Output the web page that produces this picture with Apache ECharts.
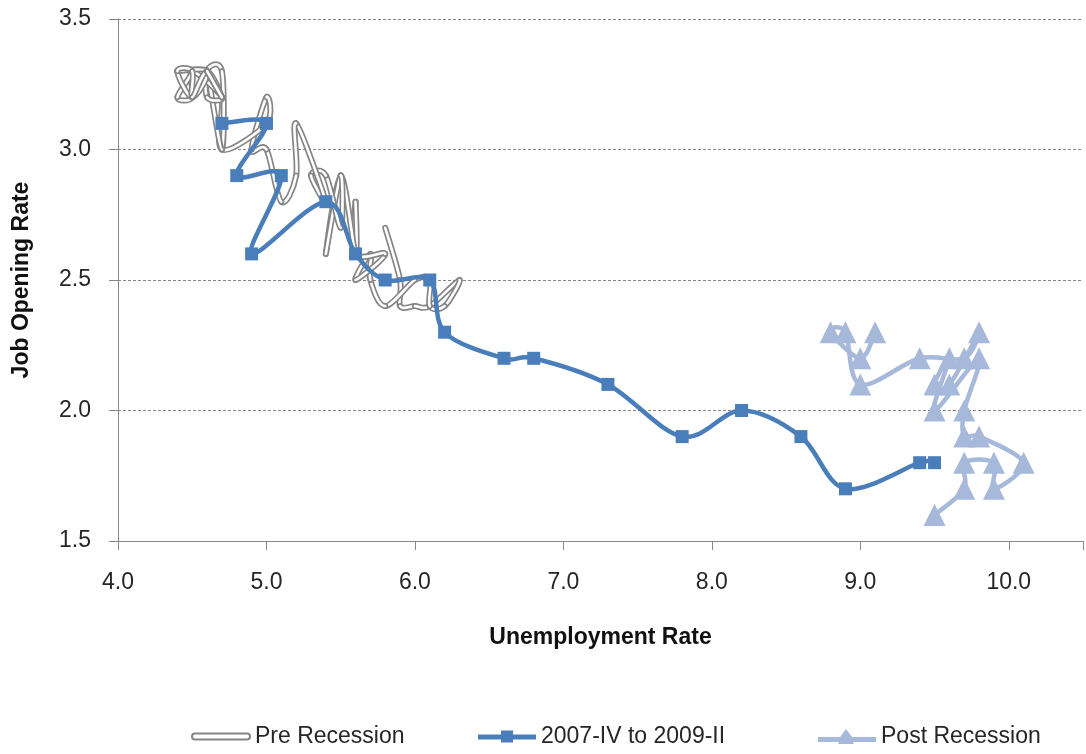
<!DOCTYPE html>
<html>
<head>
<meta charset="utf-8">
<script src="https://cdn.jsdelivr.net/npm/echarts@6/dist/echarts.min.js"></script>
<style>
  html, body { margin: 0; padding: 0; background: #fff; }
  #chart { width: 1086px; height: 754px; }
</style>
</head>
<body>
<div id="chart"></div>
<script>
// unemployment rate, job opening rate
var preRecession = [
  [5.8, 2.7], [5.9, 2.5], [5.9, 2.4], [6.0, 2.4], [6.1, 2.4], [6.3, 2.5],
  [6.2, 2.4], [6.1, 2.4], [6.1, 2.5], [6.0, 2.5], [5.8, 2.4], [5.7, 2.5],
  [5.7, 2.6], [5.6, 2.5], [5.8, 2.6], [5.6, 2.6], [5.6, 2.8], [5.6, 2.6],
  [5.5, 2.9], [5.4, 2.6], [5.5, 2.9], [5.5, 2.7], [5.4, 2.9], [5.3, 2.9],
  [5.4, 2.8], [5.2, 3.1], [5.2, 2.9], [5.1, 2.8], [5.0, 3.0], [4.9, 3.0],
  [5.0, 3.2], [5.0, 3.1], [4.7, 3.0], [4.7, 3.2], [4.6, 3.3], [4.7, 3.3],
  [4.7, 3.0], [4.6, 3.3], [4.6, 3.2], [4.7, 3.2], [4.5, 3.3], [4.5, 3.2],
  [4.4, 3.2], [4.5, 3.3], [4.4, 3.3], [4.6, 3.3], [4.5, 3.2], [4.4, 3.3],
  [4.5, 3.3], [4.5, 3.2], [4.6, 3.3], [4.7, 3.2], [4.6, 3.3], [4.7, 3.2]
]
var recession = [
  [4.7, 3.1], [5.0, 3.1], [4.8, 2.9], [5.1, 2.9], [4.9, 2.6], [5.4, 2.8],
  [5.6, 2.6], [5.8, 2.5], [6.1, 2.5], [6.2, 2.3], [6.6, 2.2], [6.8, 2.2],
  [7.3, 2.1], [7.8, 1.9], [8.2, 2.0], [8.6, 1.9], [8.9, 1.7], [9.4, 1.8],
  [9.5, 1.8]
]
var postRecession = [
  [9.5, 1.6], [9.7, 1.7], [9.7, 1.8], [9.9, 1.8], [9.9, 1.7], [10.1, 1.8],
  [9.8, 1.9], [9.7, 1.9], [9.7, 2.0], [9.8, 2.2], [9.5, 2.0], [9.6, 2.2],
  [9.5, 2.1], [9.6, 2.1], [9.8, 2.3], [9.7, 2.2], [9.4, 2.2], [9.0, 2.1],
  [8.9, 2.3], [8.8, 2.3], [9.0, 2.2], [9.1, 2.3]
]
var seriesNames = ['Pre Recession', '2007-IV to 2009-II', 'Post Recession']

var font = 'Liberation Sans, Arial, sans-serif'
var grayLine = '#858585'
var blue = '#4a7ebb'
var lightBlue = '#a7b9da'

// spreadsheet-style smoothed line: one bezier per segment, catmull-rom control points
function smoothRender(points, strokes) {
  return function (params, api) {
    var i = params.dataIndex
    var n = points.length
    if (i >= n - 1) return null
    var p0 = api.coord(points[Math.max(i - 1, 0)])
    var p1 = api.coord(points[i])
    var p2 = api.coord(points[i + 1])
    var p3 = api.coord(points[Math.min(i + 2, n - 1)])
    var t = 1 / 6
    var shape = {
      x1: p1[0], y1: p1[1], x2: p2[0], y2: p2[1],
      cpx1: p1[0] + (p2[0] - p0[0]) * t,
      cpy1: p1[1] + (p2[1] - p0[1]) * t,
      cpx2: p2[0] - (p3[0] - p1[0]) * t,
      cpy2: p2[1] - (p3[1] - p1[1]) * t
    }
    return {
      type: 'group',
      children: strokes.map(function (s) {
        return {
          type: 'bezierCurve',
          shape: shape,
          style: { stroke: s.color, lineWidth: s.width, fill: null, lineCap: 'round', lineJoin: 'round' }
        }
      })
    }
  }
}

var legendText = { fontSize: 23, color: '#262626', fontFamily: font }
function legendAt(left, item) {
  return {
    left: left,
    top: 720,
    itemWidth: 58,
    itemHeight: 18,
    textStyle: legendText,
    data: [item]
  }
}

var chart = echarts.init(document.getElementById('chart'))

var option = {
  backgroundColor: '#fff',
  animation: false,
  textStyle: { fontFamily: font },
  grid: { left: 118, top: 19, width: 972, height: 522, containLabel: false },
  legend: [
    legendAt(186, {
      name: seriesNames[0],
      icon: 'path://M3,0H55A3,3,0,0,1,55,6H3A3,3,0,0,1,3,0Z',
      itemStyle: { color: '#fff', borderColor: grayLine, borderWidth: 2 }
    }),
    legendAt(473, {
      name: seriesNames[1],
      icon: 'path://M0,4H23V0H35V4H58V9H35V12H23V9H0Z',
      itemStyle: { color: blue, borderWidth: 0 }
    }),
    legendAt(813, {
      name: seriesNames[2],
      icon: 'path://M0,8H22L28,0L34,8H58V13H35L36,15H20L21,13H0Z',
      itemStyle: { color: lightBlue, borderWidth: 0 }
    })
  ],
  xAxis: {
    type: 'value',
    min: 4,
    max: 10.5,
    interval: 1,
    name: 'Unemployment Rate',
    nameLocation: 'middle',
    nameGap: 85,
    nameTextStyle: { fontSize: 23, fontWeight: 'bold', color: '#111' },
    axisLine: { lineStyle: { color: '#868686', width: 1 } },
    axisTick: { show: true, length: 9, lineStyle: { color: '#868686' } },
    axisLabel: {
      margin: 30,
      fontSize: 23,
      color: '#262626',
      formatter: function (v) { return v % 1 === 0 ? v.toFixed(1) : '' }
    },
    splitLine: { show: false }
  },
  yAxis: {
    type: 'value',
    min: 1.5,
    max: 3.5,
    interval: 0.5,
    name: 'Job Opening Rate',
    nameLocation: 'middle',
    nameGap: 85,
    nameTextStyle: { fontSize: 23, fontWeight: 'bold', color: '#111' },
    axisLine: { show: true, lineStyle: { color: '#868686', width: 1 } },
    axisTick: { show: true, length: 9, lineStyle: { color: '#868686' } },
    axisLabel: {
      margin: 27,
      fontSize: 23,
      color: '#262626',
      formatter: function (v) { return v.toFixed(1) }
    },
    splitLine: { show: true, lineStyle: { color: '#868686', type: [3, 2], width: 1 } }
  },
  series: [
    {
      name: seriesNames[0],
      type: 'custom',
      data: preRecession,
      encode: { x: 0, y: 1 },
      renderItem: smoothRender(preRecession, [
        { color: grayLine, width: 6 },
        { color: '#fff', width: 2.6 }
      ]),
      silent: true,
      z: 2
    },
    {
      name: seriesNames[1],
      type: 'custom',
      data: recession,
      encode: { x: 0, y: 1 },
      renderItem: smoothRender(recession, [{ color: blue, width: 4.5 }]),
      silent: true,
      z: 3
    },
    {
      name: seriesNames[1],
      type: 'scatter',
      data: recession,
      symbol: 'rect',
      symbolSize: 13,
      itemStyle: { color: blue, opacity: 1 },
      z: 4
    },
    {
      name: seriesNames[2],
      type: 'custom',
      data: postRecession,
      encode: { x: 0, y: 1 },
      renderItem: smoothRender(postRecession, [{ color: lightBlue, width: 4.5 }]),
      silent: true,
      z: 5
    },
    {
      name: seriesNames[2],
      type: 'scatter',
      data: postRecession,
      symbol: 'triangle',
      symbolSize: 22,
      itemStyle: { color: lightBlue, opacity: 1 },
      z: 6
    }
  ]
}

chart.setOption(option)
</script>
</body>
</html>
